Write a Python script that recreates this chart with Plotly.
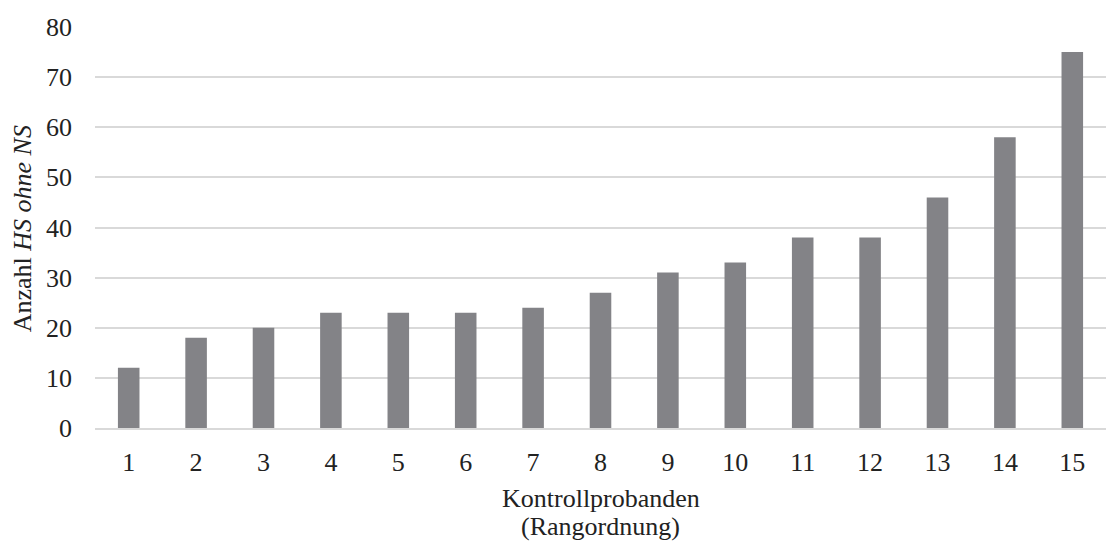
import plotly.graph_objects as go

categories = ["1", "2", "3", "4", "5", "6", "7", "8", "9", "10", "11", "12", "13", "14", "15"]
values = [12, 18, 20, 23, 23, 23, 24, 27, 31, 33, 38, 38, 46, 58, 75]
y_ticks = [0, 10, 20, 30, 40, 50, 60, 70, 80]

FONT = "Liberation Serif, Times New Roman, serif"
TXT = "#222222"
SIZE = 26

fig = go.Figure()
fig.add_trace(go.Bar(
    x=categories, y=values,
    marker=dict(color="#838387", line=dict(width=0)),
    width=0.32,
))

fig.update_layout(
    width=1108, height=543,
    margin=dict(l=95, r=2, t=27, b=115, autoexpand=False),
    paper_bgcolor="white", plot_bgcolor="white",
    font=dict(family=FONT, size=SIZE, color=TXT),
    showlegend=False,
    bargap=0.68,
)
fig.update_xaxes(
    type="category", automargin=False,
    showgrid=False,
    showline=True, linecolor="#d9d9d9", linewidth=2,
    ticks="", ticklabelstandoff=10,
    tickfont=dict(family=FONT, size=SIZE, color=TXT),
)
fig.update_yaxes(
    range=[0, 80], tickvals=y_ticks, automargin=False,
    showgrid=True, gridcolor="#d9d9d9", gridwidth=2,
    zeroline=False, showline=False,
    ticks="", ticklabelstandoff=22,
    tickfont=dict(family=FONT, size=SIZE, color=TXT),
)

fig.add_annotation(
    text="Kontrollprobanden",
    xref="paper", yref="paper", x=0.5, y=-0.175,
    xanchor="center", yanchor="middle", showarrow=False,
    font=dict(family=FONT, size=SIZE, color=TXT),
)
fig.add_annotation(
    text="(Rangordnung)",
    xref="paper", yref="paper", x=0.5, y=-0.245,
    xanchor="center", yanchor="middle", showarrow=False,
    font=dict(family=FONT, size=SIZE, color=TXT),
)
fig.add_annotation(
    text="Anzahl <i>HS ohne NS</i>",
    xref="paper", yref="paper", x=-0.072, y=0.496,
    xanchor="center", yanchor="middle", showarrow=False, textangle=-90,
    font=dict(family=FONT, size=SIZE, color=TXT),
)

fig.write_html(
    "out.html",
    config={"displayModeBar": False},
    post_script="document.body.style.margin='0';document.body.style.overflow='hidden';",
)
